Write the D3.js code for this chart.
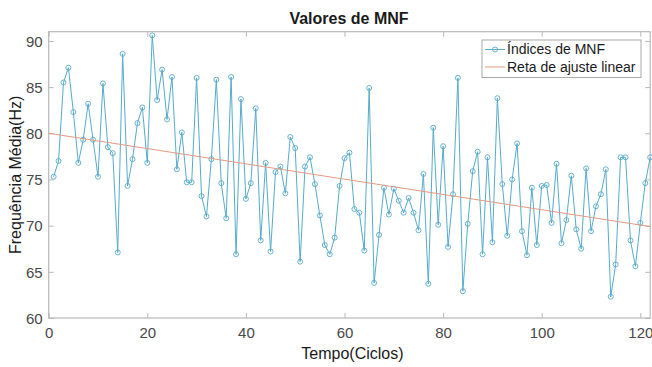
<!DOCTYPE html>
<html>
<head>
<meta charset="utf-8">
<script src="https://cdn.jsdelivr.net/npm/d3@7"></script>
<style>
  html, body { margin: 0; padding: 0; background: #fff; }
  svg { display: block; font-family: Arial, "Liberation Sans", Helvetica, sans-serif; }
</style>
</head>
<body>
<svg id="chart" width="652" height="367"></svg>
<script>
// ---- data ----
const title = "Valores de MNF";
const xLabel = "Tempo(Ciclos)";
const yLabel = "Frequência Média(Hz)";
const seriesNames = ["Índices de MNF", "Reta de ajuste linear"];
const cycles = d3.range(1, 123);
const mnfValues = [
  75.3, 77.0, 85.5, 87.1, 82.3, 76.8, 79.3, 83.2, 79.3, 75.3,
  85.4, 78.5, 77.85, 67.1, 88.6, 74.3, 77.2, 81.1, 82.8, 76.8,
  90.6, 83.6, 86.9, 81.5, 86.1, 76.1, 80.1, 74.7, 74.7, 86.0,
  73.2, 71.0, 77.2, 85.8, 74.6, 70.8, 86.1, 66.9, 83.7, 72.9,
  74.6, 82.7, 68.4, 76.8, 67.2, 75.8, 76.4, 73.5, 79.6, 78.4,
  66.1, 76.4, 77.4, 74.5, 71.1, 67.9, 66.9, 68.7, 74.3, 77.3,
  77.9, 71.8, 71.4, 67.3, 84.9, 63.8, 69.0, 74.1, 71.2, 74.0,
  72.7, 71.4, 73.0, 71.4, 69.5, 75.6, 63.7, 80.6, 70.1, 78.6,
  67.7, 73.4, 86.0, 62.9, 70.2, 75.9, 78.0, 66.9, 77.4, 68.2,
  83.8, 74.5, 68.9, 75.0, 78.9, 69.4, 66.8, 74.1, 67.9, 74.3,
  74.4, 70.3, 76.7, 68.1, 70.6, 75.4, 69.6, 67.5, 76.2, 69.4,
  72.1, 73.4, 76.1, 62.3, 65.8, 77.4, 77.4, 68.4, 65.6, 70.3,
  74.6, 77.4
];
const fitX = [0, 122];
const fitY = [80.0, 69.9];
const xTicks = [0, 20, 40, 60, 80, 100, 120];
const yTicks = [60, 65, 70, 75, 80, 85, 90];
const xDomain = [0, 122];
const yDomain = [60, 91];

// ---- layout ----
const svg = d3.select("#chart");
const L = 48.7, R = 650.2, T = 31.7, B = 318;
const x = d3.scaleLinear().domain(xDomain).range([L, R]);
const y = d3.scaleLinear().domain(yDomain).range([B, T]);
const axisColor = "#b8b8b8";
const textColor = "#484848";
const blue = "#56abcb";
const orange = "#e59a80";

// axes with inward ticks (MATLAB style, box on)
const tickLen = 5;
const gx = svg.append("g").attr("transform", `translate(0,${B})`)
  .call(d3.axisBottom(x).tickValues(xTicks).tickSizeInner(-tickLen).tickSizeOuter(0).tickPadding(9));
const gxTop = svg.append("g").attr("transform", `translate(0,${T})`)
  .call(d3.axisTop(x).tickValues(xTicks).tickSizeInner(-tickLen).tickSizeOuter(0).tickFormat(""));
const gy = svg.append("g").attr("transform", `translate(${L},0)`)
  .call(d3.axisLeft(y).tickValues(yTicks).tickSizeInner(-tickLen).tickSizeOuter(0).tickPadding(6));
const gyR = svg.append("g").attr("transform", `translate(${R},0)`)
  .call(d3.axisRight(y).tickValues(yTicks).tickSizeInner(-tickLen).tickSizeOuter(0).tickFormat(""));

[gx, gxTop, gy, gyR].forEach(g => {
  g.select(".domain").remove();
  g.selectAll(".tick line").attr("stroke", axisColor).attr("stroke-width", 1);
  g.selectAll(".tick text").attr("fill", textColor).style("font-size", "15px")
    .style("font-family", "Arial, 'Liberation Sans', sans-serif");
});
gy.selectAll(".tick text").attr("dy", "0.35em");

// box
svg.append("rect").attr("x", L).attr("y", T).attr("width", R - L).attr("height", B - T)
  .attr("fill", "none").attr("stroke", axisColor).attr("stroke-width", 1.2);

// data line + markers
const pts = cycles.map((c, i) => [c, mnfValues[i]]);
const line = d3.line().x(d => x(d[0])).y(d => y(d[1]));
svg.append("path").datum(pts).attr("d", line)
  .attr("fill", "none").attr("stroke", blue).attr("stroke-width", 1);
svg.append("g").selectAll("circle").data(pts).join("circle")
  .attr("cx", d => x(d[0])).attr("cy", d => y(d[1])).attr("r", 2.5)
  .attr("fill", "none").attr("stroke", blue).attr("stroke-width", 0.9);

// fit line
svg.append("path").datum(fitX.map((v, i) => [v, fitY[i]])).attr("d", line)
  .attr("fill", "none").attr("stroke", orange).attr("stroke-width", 1);

// title & labels
svg.append("text").attr("x", 349).attr("y", 23.5).attr("text-anchor", "middle")
  .style("font-size", "16px").style("font-weight", "bold").attr("fill", "#1a1a1a").text(title);
svg.append("text").attr("x", (L + R) / 2 + 3).attr("y", 359).attr("text-anchor", "middle")
  .style("font-size", "16px").attr("fill", "#1a1a1a").text(xLabel);
svg.append("text").attr("transform", `translate(21,${(T + B) / 2}) rotate(-90)`)
  .attr("text-anchor", "middle").style("font-size", "16px").attr("fill", "#1a1a1a").text(yLabel);

// legend
const lg = svg.append("g");
lg.append("rect").attr("x", 482).attr("y", 40).attr("width", 159).attr("height", 37.5)
  .attr("fill", "#fff").attr("stroke", "#a8a8a8").attr("stroke-width", 1);
const rows = [49.5, 67];
lg.append("line").attr("x1", 485).attr("x2", 505).attr("y1", rows[0]).attr("y2", rows[0])
  .attr("stroke", blue).attr("stroke-width", 1);
lg.append("circle").attr("cx", 495).attr("cy", rows[0]).attr("r", 2.5)
  .attr("fill", "none").attr("stroke", blue).attr("stroke-width", 0.9);
lg.append("line").attr("x1", 485).attr("x2", 505).attr("y1", rows[1]).attr("y2", rows[1])
  .attr("stroke", orange).attr("stroke-width", 1);
seriesNames.forEach((n, i) => {
  lg.append("text").attr("x", 507).attr("y", rows[i]).attr("dy", "0.35em")
    .style("font-size", "14px").attr("fill", "#1a1a1a").text(n);
});
</script>
</body>
</html>
